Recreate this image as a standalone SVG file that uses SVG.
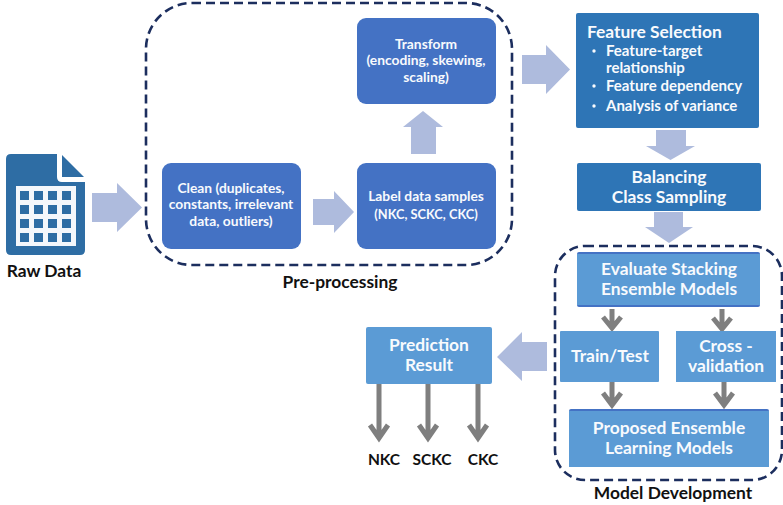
<svg xmlns="http://www.w3.org/2000/svg" width="783" height="505" viewBox="0 0 783 505">
<style>
text{font-family:"Lato","Liberation Sans",sans-serif;font-weight:700;font-size:13.800px;text-anchor:middle}
.w{fill:#f8fafd}
.k{fill:#111;font-size:17.400px}
.o{fill:#111;font-size:15.500px}
.big{font-size:17.400px}
.s{font-size:15px;text-anchor:start}
.b1{fill:#4472c4}
.b2{fill:#2e75b6}
.b3{fill:#5b9bd5}
.edge{fill:#4472c4}
.blk{fill:#aebbdd}
.dash{fill:none;stroke:#1c2e5e;stroke-width:2.600;stroke-dasharray:9 5}
.g{fill:none;stroke:#7f7f7f;stroke-width:5}
.ic{fill:#2e6da4}
</style>
<rect width="783" height="505" fill="#fff"/>
<g id="connectors">
<polygon class="blk" points="92,193 117,193 117,183 142,207.500 117,232 117,222 92,222"/>
<polygon class="blk" points="313,199 334,199 334,191 354,212 334,233 334,225 313,225"/>
<polygon class="blk" points="411,154 411,127 403,127 423,111 443,127 436,127 436,154"/>
<polygon class="blk" points="522,55 546,55 546,45 570,69.500 546,94 546,84 522,84"/>
<polygon class="blk" points="656,130 686,130 686,146 695,146 670.500,160 646,146 656,146"/>
<polygon class="blk" points="654,212 683,212 683,227 693,227 669,243 645,227 654,227"/>
<polygon class="blk" points="547,342 522,342 522,332 497,357 522,381 522,371 547,371"/>
<path class="g" d="M612 309V328M603 317L612 328L621 317"/>
<path class="g" d="M722 309V329M713 318L722 329L731 318"/>
<path class="g" d="M612 382V405M603 393L612 405L621 393"/>
<path class="g" d="M724 382V405M715 393L724 405L733 393"/>
<path class="g" d="M379 384V438M370 425L379 438L388 425"/>
<path class="g" d="M428 384V438M419 425L428 438L437 425"/>
<path class="g" d="M478 384V438M469 425L478 438L487 425"/>
</g>
<g id="preprocessing">
<rect class="dash" x="146" y="3" width="366" height="262" rx="46"/>
<text class="k" x="340" y="288">Pre-processing</text>
</g>
<g id="raw-data">
<path class="ic" d="M11 154H57V177Q57 182 62 182H85V250Q85 255 80 255H11Q6 255 6 250V159Q6 154 11 154Z"/>
<path class="ic" d="M62 155L84 177H62Z"/>
<rect x="16" y="186" width="60" height="60" fill="#f4f7fb"/>
<g class="ic">
<rect x="20" y="191" width="9" height="9"/><rect x="34" y="191" width="9" height="9"/><rect x="48" y="191" width="9" height="9"/><rect x="62" y="191" width="9" height="9"/>
<rect x="20" y="205" width="9" height="9"/><rect x="34" y="205" width="9" height="9"/><rect x="48" y="205" width="9" height="9"/><rect x="62" y="205" width="9" height="9"/>
<rect x="20" y="219" width="9" height="9"/><rect x="34" y="219" width="9" height="9"/><rect x="48" y="219" width="9" height="9"/><rect x="62" y="219" width="9" height="9"/>
<rect x="20" y="233" width="9" height="9"/><rect x="34" y="233" width="9" height="9"/><rect x="48" y="233" width="9" height="9"/><rect x="62" y="233" width="9" height="9"/>
</g>
<text class="k" x="44" y="277">Raw Data</text>
</g>
<g id="clean">
<rect class="b1" x="162" y="163" width="139" height="86" rx="9"/>
<text class="w" x="231" y="193">Clean (duplicates,</text>
<text class="w" x="231" y="209">constants, irrelevant</text>
<text class="w" x="231" y="226">data, outliers)</text>
</g>
<g id="label-samples">
<rect class="b1" x="357" y="163" width="139" height="86" rx="9"/>
<text class="w" x="426" y="201">Label data samples</text>
<text class="w" x="426" y="219" style="font-size:12.800px">(NKC, SCKC, CKC)</text>
</g>
<g id="transform">
<rect class="b1" x="357" y="18" width="139" height="86" rx="9"/>
<text class="w" x="426" y="49">Transform</text>
<text class="w" x="426" y="65">(encoding, skewing,</text>
<text class="w" x="426" y="82">scaling)</text>
</g>
<g id="feature-selection">
<rect class="b2" x="576" y="13" width="183" height="115" rx="2"/>
<text class="w big" x="587" y="38" style="text-anchor:start">Feature Selection</text>
<circle cx="594" cy="51" r="1.700" fill="#f8fafd"/>
<circle cx="594" cy="86" r="1.700" fill="#f8fafd"/>
<circle cx="594" cy="106" r="1.700" fill="#f8fafd"/>
<text class="w s" x="606" y="56">Feature-target</text>
<text class="w s" x="606" y="73">relationship</text>
<text class="w s" x="606" y="91">Feature dependency</text>
<text class="w s" x="606" y="111">Analysis of variance</text>
</g>
<g id="balancing">
<rect class="b2" x="577" y="163" width="184" height="48" rx="2"/>
<text class="w big" x="669" y="183">Balancing</text>
<text class="w big" x="669" y="203">Class Sampling</text>
</g>
<g id="model-development">
<rect class="dash" x="555" y="246" width="227" height="234" rx="30"/>
<text class="k" x="673" y="499">Model Development</text>
</g>
<g id="evaluate">
<rect class="edge" x="577" y="252" width="183" height="55" rx="2"/>
<rect class="b3" x="577" y="254" width="183" height="51"/>
<text class="w big" x="669" y="275">Evaluate Stacking</text>
<text class="w big" x="669" y="295">Ensemble Models</text>
</g>
<g id="train-test">
<rect class="b3" x="560" y="331" width="99" height="51" rx="1"/>
<text class="w big" x="610" y="362">Train/Test</text>
</g>
<g id="cross-validation">
<rect class="b3" x="676" y="331" width="100" height="51"/>
<text class="w big" x="726" y="352">Cross -</text>
<text class="w big" x="726" y="372">validation</text>
</g>
<g id="proposed">
<rect class="edge" x="569" y="409" width="200" height="20" rx="2"/>
<rect class="b3" x="569" y="411" width="200" height="56"/>
<text class="w big" x="669" y="434">Proposed Ensemble</text>
<text class="w big" x="669" y="454">Learning Models</text>
</g>
<g id="prediction">
<rect class="b3" x="366" y="327" width="126" height="57" rx="2"/>
<text class="w big" x="429" y="351">Prediction</text>
<text class="w big" x="429" y="371">Result</text>
</g>
<g id="outputs">
<text class="o" x="384" y="465">NKC</text>
<text class="o" x="432" y="465">SCKC</text>
<text class="o" x="483" y="465">CKC</text>
</g>
</svg>
